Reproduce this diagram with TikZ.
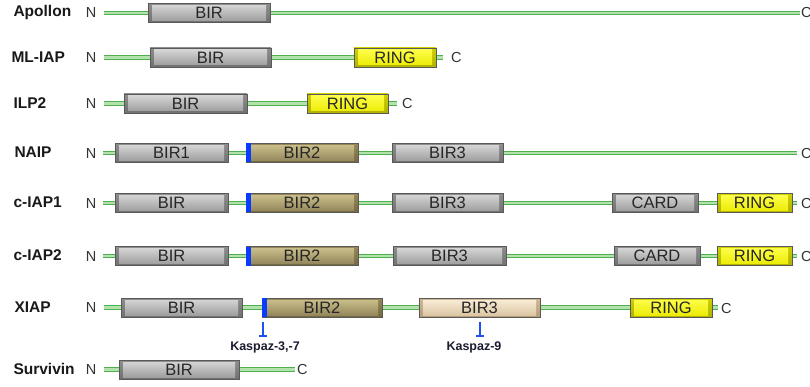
\documentclass[tikz,border=0pt]{standalone}
\usepackage{fontspec}
\setmainfont{Liberation Sans}
\usetikzlibrary{arrows.meta}
\definecolor{lineout}{HTML}{4FB04F}
\definecolor{linein}{HTML}{B4E2AC}
\definecolor{boxedge}{HTML}{595959}
\definecolor{gO1}{HTML}{8E8E8E}\definecolor{gO2}{HTML}{707070}
\definecolor{gI1}{HTML}{DADADA}\definecolor{gI2}{HTML}{989898}
\definecolor{oO1}{HTML}{968858}\definecolor{oO2}{HTML}{746840}
\definecolor{oI1}{HTML}{CFC490}\definecolor{oI2}{HTML}{8E8056}
\definecolor{bO1}{HTML}{D2BA98}\definecolor{bO2}{HTML}{B49A78}
\definecolor{bI1}{HTML}{FCF0DC}\definecolor{bI2}{HTML}{D8C29E}
\definecolor{yO1}{HTML}{D0D000}\definecolor{yO2}{HTML}{B0B000}
\definecolor{yI1}{HTML}{FFFF50}\definecolor{yI2}{HTML}{EAEA00}
\definecolor{inhblue}{HTML}{2050F0}
\definecolor{barblue}{HTML}{0A3CFF}
\definecolor{kastext}{HTML}{1C1C30}
\newcommand\protdom[6]{%
  \pgfmathsetmacro\domw{#3-#2}%
  \node[#5,minimum width=\domw pt] (#1) at ({(#2+#3)/2},#4) {#6};}
\newcommand\bluemark[3]{%
  \node[bluebar] (#1) at (#2,#3) {};}
\begin{document}
\begin{tikzpicture}[x=1pt,y=-1pt,
  backbone/.style={draw=lineout,line width=1.1pt,double=linein,double distance=2.5pt},
  dombox/.style={draw=boxedge,line width=0.6pt,minimum height=19pt,inner sep=0pt,
    font=\fontsize{16.5}{16.5}\selectfont,text=black!85},
  domshade/.style n args={4}{dombox,top color=#1,bottom color=#2,
    path picture={\shade[top color=#3,bottom color=#4]
      ([xshift=4pt,yshift=-2pt]path picture bounding box.north west) rectangle
      ([xshift=-4pt,yshift=2pt]path picture bounding box.south east);}},
  graydom/.style={domshade={gO1}{gO2}{gI1}{gI2}},
  olivedom/.style={domshade={oO1}{oO2}{oI1}{oI2}},
  beigedom/.style={domshade={bO1}{bO2}{bI1}{bI2}},
  yellowdom/.style={domshade={yO1}{yO2}{yI1}{yI2}},
  bluebar/.style={fill=barblue,draw=none,minimum width=5pt,minimum height=19pt,inner sep=0pt},
  protname/.style={anchor=west,font=\bfseries\fontsize{15.5}{15.5}\selectfont,text=black!90},
  term/.style={font=\fontsize{14.5}{14.5}\selectfont,text=black!80,inner sep=0pt},
  inhib/.style={draw=inhblue,line width=1.6pt,-{Bar[width=8pt,line width=1.6pt]}},
  kaslabel/.style={font=\bfseries\fontsize{12.5}{12.5}\selectfont,text=kastext,inner sep=0pt}
]
\useasboundingbox[fill=white] (0,0) rectangle (810,387);

% ---------- Apollon ----------
\node[protname] (apName) at (10,12) {Apollon};
\node[term] (apN) at (91,13) {N};
\coordinate (apS) at (104,13);
\coordinate (apE) at (800,13);
\draw[backbone] (apS) -- (apE);
\protdom{apBIR}{148}{270}{13}{graydom}{BIR}
\node[term,anchor=west] (apC) at (801,13) {C};

% ---------- ML-IAP ----------
\node[protname] (mlName) at (8,57) {ML-IAP};
\node[term] (mlN) at (91,57.5) {N};
\coordinate (mlS) at (104,57.5);
\coordinate (mlE) at (443,57.5);
\draw[backbone] (mlS) -- (mlE);
\protdom{mlBIR}{150}{271}{57.5}{graydom}{BIR}
\protdom{mlRING}{354}{436}{57.5}{yellowdom}{RING}
\node[term,anchor=west] (mlC) at (451,58) {C};

% ---------- ILP2 ----------
\node[protname] (ilName) at (10,103) {ILP2};
\node[term] (ilN) at (91,103.5) {N};
\coordinate (ilS) at (104,103.5);
\coordinate (ilE) at (397,103.5);
\draw[backbone] (ilS) -- (ilE);
\protdom{ilBIR}{124}{247}{103.5}{graydom}{BIR}
\protdom{ilRING}{307}{388}{103.5}{yellowdom}{RING}
\node[term,anchor=west] (ilC) at (402,104) {C};

% ---------- NAIP ----------
\node[protname] (naName) at (11,152) {NAIP};
\node[term] (naN) at (91,153.5) {N};
\coordinate (naS) at (103,153);
\coordinate (naE) at (797,153);
\draw[backbone] (naS) -- (naE);
\protdom{naBIRa}{115}{228}{153}{graydom}{BIR1}
\protdom{naBIRb}{246}{358}{153}{olivedom}{BIR2}
\bluemark{naMark}{248.5}{153}
\protdom{naBIRc}{392}{503}{153}{graydom}{BIR3}
\node[term,anchor=west] (naC) at (801,154) {C};

% ---------- c-IAP1 ----------
\node[protname] (c1Name) at (10,202) {c-IAP1};
\node[term] (c1N) at (91,203.5) {N};
\coordinate (c1S) at (103,203);
\coordinate (c1E) at (797,203);
\draw[backbone] (c1S) -- (c1E);
\protdom{c1BIRa}{115}{228}{203}{graydom}{BIR}
\protdom{c1BIRb}{246}{358}{203}{olivedom}{BIR2}
\bluemark{c1Mark}{248.5}{203}
\protdom{c1BIRc}{392}{503}{203}{graydom}{BIR3}
\protdom{c1CARD}{612}{698}{203}{graydom}{CARD}
\protdom{c1RING}{717}{792}{203}{yellowdom}{RING}
\node[term,anchor=west] (c1C) at (801,204) {C};

% ---------- c-IAP2 ----------
\node[protname] (c2Name) at (10,255) {c-IAP2};
\node[term] (c2N) at (91,256.5) {N};
\coordinate (c2S) at (103,256);
\coordinate (c2E) at (797,256);
\draw[backbone] (c2S) -- (c2E);
\protdom{c2BIRa}{115}{228}{256}{graydom}{BIR}
\protdom{c2BIRb}{246}{358}{256}{olivedom}{BIR2}
\bluemark{c2Mark}{248.5}{256}
\protdom{c2BIRc}{393}{506}{256}{graydom}{BIR3}
\protdom{c2CARD}{614}{700}{256}{graydom}{CARD}
\protdom{c2RING}{717}{792}{256}{yellowdom}{RING}
\node[term,anchor=west] (c2C) at (801,257) {C};

% ---------- XIAP ----------
\node[protname] (xiName) at (11,307) {XIAP};
\node[term] (xiN) at (91,308) {N};
\coordinate (xiS) at (104,307.5);
\coordinate (xiE) at (718,307.5);
\draw[backbone] (xiS) -- (xiE);
\protdom{xiBIRa}{121}{242}{307.5}{graydom}{BIR}
\protdom{xiBIRb}{262}{382}{307.5}{olivedom}{BIR2}
\bluemark{xiMark}{264.5}{307.5}
\protdom{xiBIRc}{419}{540}{307.5}{beigedom}{BIR3}
\protdom{xiRING}{630}{712}{307.5}{yellowdom}{RING}
\node[term,anchor=west] (xiC) at (721,308.5) {C};

% caspase inhibition marks
\coordinate (k37t) at (263,322);
\coordinate (k37b) at (263,337);
\draw[inhib] (k37t) -- (k37b);
\node[kaslabel] (k37) at (265,347) {Kaspaz-3,-7};
\coordinate (k9t) at (480,322);
\coordinate (k9b) at (480,337);
\draw[inhib] (k9t) -- (k9b);
\node[kaslabel] (k9) at (474,347) {Kaspaz-9};

% ---------- Survivin ----------
\node[protname] (suName) at (10,369) {Survivin};
\node[term] (suN) at (91,370) {N};
\coordinate (suS) at (104,369.5);
\coordinate (suE) at (295,369.5);
\draw[backbone] (suS) -- (suE);
\protdom{suBIR}{119}{239}{369.5}{graydom}{BIR}
\node[term,anchor=west] (suC) at (297,370) {C};
\end{tikzpicture}
\end{document}
